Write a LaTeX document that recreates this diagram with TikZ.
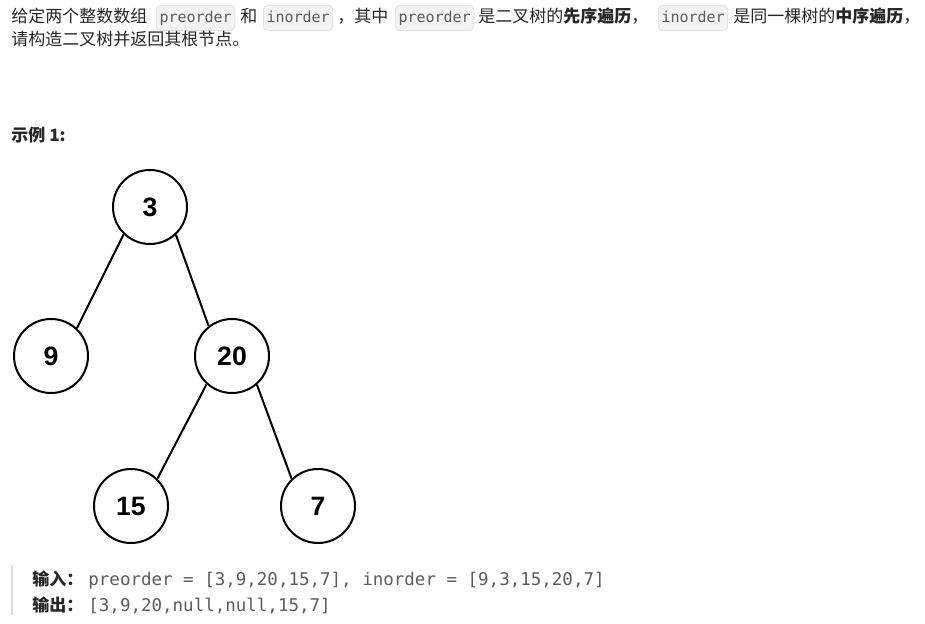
\documentclass[tikz,border=0pt]{standalone}
\usepackage{xcolor}
\usepackage{fontspec}
\setmainfont{Liberation Sans}
\setmonofont{DejaVu Sans Mono}
\newfontfamily\cjk{Noto Sans CJK SC}
\usetikzlibrary{positioning}

\definecolor{txt}{RGB}{38,38,38}
\definecolor{codebg}{RGB}{243,243,243}
\definecolor{codeline}{RGB}{228,228,228}
\definecolor{codetxt}{RGB}{92,92,92}
\definecolor{quotebar}{RGB}{224,224,224}

\tikzset{
  treenode/.style={circle, draw, line width=1pt, minimum size=37pt, inner sep=0pt,
    font=\fontsize{13.3}{13.3}\selectfont\bfseries},
  para/.style={anchor=base west, inner sep=0pt, text=txt, font=\cjk\fontsize{8.5}{10}\selectfont},
  chip/.style={anchor=base west, inner xsep=1.5pt, inner ysep=0pt, text height=8.75pt,
    text depth=3.75pt, fill=codebg, draw=codeline, line width=0.5pt, rounded corners=2pt,
    text=codetxt, font=\ttfamily\fontsize{7.5}{9}\selectfont},
  outcode/.style={anchor=base west, inner sep=0pt, text=codetxt, font=\ttfamily\fontsize{8.75}{10}\selectfont}
}

\begin{document}
\begin{tikzpicture}[x=0.5pt, y=-0.5pt]
    \useasboundingbox (0,0) rectangle (925,624);
    % question text
    \node[para] (t1) at (11,23) {给定两个整数数组};
    \node[chip] (c1) at (156,23) {preorder};
    \node[para] (t2) at (240,23) {和};
    \node[chip] (c2) at (263,23) {inorder};
    \node[para] (t3) at (337,23) {，其中};
    \node[chip] (c3) at (395,23) {preorder};
    \node[para] (t4) at (478,23) {是二叉树的{\bfseries 先序遍历}，};
    \node[chip] (c4) at (658,23) {inorder};
    \node[para] (t5) at (733,23) {是同一棵树的{\bfseries 中序遍历}，};
    \node[para] (t6) at (11,46) {请构造二叉树并返回其根节点。};
    %
    \node[para, font=\cjk\fontsize{8.5}{10}\selectfont\bfseries] (title) at (11,142) {示例 1:};
    % the tree
    \node[treenode] (n3) at (150,207) {3};
    \node[treenode] (n9) at (51,356) {9};
    \node[treenode] (n20) at (232,356) {20};
    \node[treenode] (n15) at (131,506) {15};
    \node[treenode] (n7) at (318,506) {7};
    \draw[line width=1pt] (n3.226) -- (n9.47)
      (n3.313) -- (n20.128)
      (n20.228) -- (n15.46)
      (n20.311) -- (n7.134);
    % input / output
    \fill[quotebar] (11,565) rectangle (13,615);
    \node[para, font=\cjk\fontsize{8.5}{10}\selectfont\bfseries] (in) at (32,585) {输入：};
    \node[outcode] (inval) at (88,585) {preorder = [3,9,20,15,7], inorder = [9,3,15,20,7]};
    \node[para, font=\cjk\fontsize{8.5}{10}\selectfont\bfseries] (out) at (32,611) {输出：};
    \node[outcode] (outval) at (88,611) {[3,9,20,null,null,15,7]};
\end{tikzpicture}
\end{document}
